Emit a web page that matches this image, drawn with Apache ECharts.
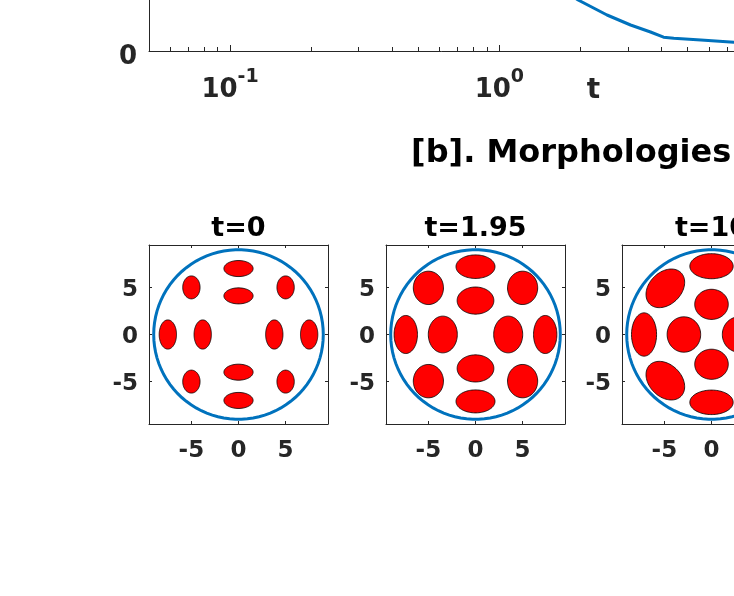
<!DOCTYPE html>
<html>
<head>
<meta charset="utf-8">
<script src="https://cdn.jsdelivr.net/npm/echarts@6/dist/echarts.min.js"></script>
<style>
  html, body { margin: 0; padding: 0; background: #fff; }
  #main { width: 734px; height: 596px; }
</style>
</head>
<body>
<div id="main"></div>
<script>
  // top strip: curve over t (log axis), only its lower part is in view
  const curveT = [1.5, 1.75, 1.96, 2.51, 3.07, 3.64, 4.07, 4.44, 5.6, 7.43, 10]
  const curveV = [0.2, 0.15, 0.1275, 0.09, 0.065, 0.0475, 0.0345, 0.0318, 0.0275, 0.0218, 0.019]
  const logLabelTicks = [0.1, 1, 10, 100]
  const logMinorTicks = [0.06, 0.07, 0.08, 0.09,
    0.2, 0.3, 0.4, 0.5, 0.6, 0.7, 0.8, 0.9,
    2, 3, 4, 5, 6, 7, 8, 9,
    20, 30, 40, 50, 60, 70, 80, 90]

  // [b] morphologies: each drop is [cx, cy, rx, ry, angle(deg)]
  const subTicks = [-5, 0, 5]
  const panelTitles = ['t=0', 't=1.95', 't=10']
  const domainCircle = [[0, 0, 9, 9, 0]]
  const morphT0 = [
    [0, 7.0, 1.55, 0.85, 0], [0, 4.1, 1.55, 0.85, 0],
    [0, -4.0, 1.55, 0.85, 0], [0, -7.0, 1.55, 0.85, 0],
    [-7.5, 0, 0.92, 1.55, 0], [-3.8, 0, 0.92, 1.55, 0],
    [3.8, 0, 0.92, 1.55, 0], [7.5, 0, 0.92, 1.55, 0],
    [-5.0, 5.0, 0.92, 1.22, 0], [5.0, 5.0, 0.92, 1.22, 0],
    [-5.0, -5.0, 0.92, 1.22, 0], [5.0, -5.0, 0.92, 1.22, 0]
  ]
  const morphT195 = [
    [0, 7.2, 2.07, 1.25, 0], [0, 3.6, 1.95, 1.44, 0],
    [0, -3.6, 1.95, 1.44, 0], [0, -7.1, 2.07, 1.22, 0],
    [-7.4, 0, 1.24, 2.02, 0], [-3.47, 0, 1.54, 1.95, 0],
    [3.47, 0, 1.54, 1.95, 0], [7.4, 0, 1.24, 2.02, 0],
    [-5.0, 4.95, 1.6, 1.77, 0], [5.0, 4.95, 1.6, 1.77, 0],
    [-5.0, -4.95, 1.6, 1.77, 0], [5.0, -4.95, 1.6, 1.77, 0]
  ]
  const morphT10 = [
    [0, 7.25, 2.3, 1.33, 0], [0, 3.2, 1.78, 1.6, 0],
    [0, -3.16, 1.78, 1.6, 0], [0, -7.2, 2.3, 1.3, 0],
    [-7.16, 0, 1.33, 2.3, 0], [-2.93, 0, 1.78, 1.88, 0],
    [2.93, 0, 1.78, 1.88, 0], [7.16, 0, 1.33, 2.3, 0],
    [-4.9, 4.9, 2.35, 1.7, 45], [4.9, 4.9, 2.35, 1.7, -45],
    [-4.9, -4.9, 2.35, 1.7, -45], [4.9, -4.9, 2.35, 1.7, 45]
  ]
  const panels = [morphT0, morphT195, morphT10]

  const axisColor = '#262626'
  const blue = '#0072BD'
  const font = 'DejaVu Sans'
  const panelLeft = [149, 386, 622]
  const panelSize = 179

  // ellipse outline built from its data through the axis scales
  function ellipseRenderer (style) {
    return function (params, api) {
      const cx = api.value(0)
      const cy = api.value(1)
      const rx = api.value(2)
      const ry = api.value(3)
      const ang = api.value(4) * Math.PI / 180
      const pts = []
      for (let k = 0; k < 90; k++) {
        const a = k / 90 * Math.PI * 2
        const ex = rx * Math.cos(a)
        const ey = ry * Math.sin(a)
        pts.push(api.coord([
          cx + ex * Math.cos(ang) - ey * Math.sin(ang),
          cy + ex * Math.sin(ang) + ey * Math.cos(ang)
        ]))
      }
      return { type: 'polygon', shape: { points: pts }, style: style }
    }
  }

  const myChart = echarts.init(document.getElementById('main'), null, { renderer: 'canvas' })

  const option = {
    animation: false,
    backgroundColor: '#fff',
    grid: [
      // top plot, mostly above the view
      { left: 149, top: -349, width: 889, height: 400, outerBoundsMode: 'none', containLabel: false }
    ],
    xAxis: [
      {
        type: 'log', gridIndex: 0, position: 'bottom',
        min: 0.05, max: 100,
        name: 't', nameLocation: 'middle', nameGap: 26, nameMoveOverlap: false,
        nameTextStyle: { fontFamily: font, fontWeight: 'bold', fontSize: 28, color: axisColor },
        axisLine: { lineStyle: { color: axisColor, width: 1 } },
        axisTick: { inside: true, length: 6, customValues: logLabelTicks, lineStyle: { color: axisColor } },
        splitLine: { show: false },
        axisLabel: {
          customValues: logLabelTicks,
          margin: 17,
          formatter: function (v) {
            return '{b|10}{s|' + Math.round(Math.log10(v)) + '}'
          },
          rich: {
            b: { fontFamily: font, fontWeight: 'bold', fontSize: 26, lineHeight: 35, color: axisColor, verticalAlign: 'bottom' },
            s: { fontFamily: font, fontWeight: 'bold', fontSize: 19, lineHeight: 19, color: axisColor, verticalAlign: 'top' }
          }
        }
      },
      {
        type: 'log', gridIndex: 0, position: 'bottom',
        min: 0.05, max: 100,
        axisLine: { show: false },
        axisTick: { inside: true, length: 4, customValues: logMinorTicks, lineStyle: { color: axisColor } },
        axisLabel: { show: false },
        splitLine: { show: false }
      }
    ],
    yAxis: [
      {
        type: 'value', gridIndex: 0, min: 0, max: 1, interval: 0.5,
        axisLine: { show: true, lineStyle: { color: axisColor, width: 1 } },
        axisTick: { show: true, inside: true, length: 6, lineStyle: { color: axisColor } },
        splitLine: { show: false },
        axisLabel: {
          margin: 12, verticalAlign: 'top', lineHeight: 12,
          fontFamily: font, fontWeight: 'bold', fontSize: 26, color: axisColor,
          formatter: function (v) { return v === 0 ? '0' : '' }
        }
      }
    ],
    series: [
      {
        type: 'line', xAxisIndex: 0, yAxisIndex: 0,
        data: curveT.map(function (t, i) { return [t, curveV[i]] }),
        showSymbol: false, smooth: false,
        lineStyle: { color: blue, width: 3 },
        clip: true
      }
    ],
    graphic: [
      {
        type: 'text', left: 411, top: 138,
        style: { text: '[b]. Morphologies', fontFamily: font, fontWeight: 'bold', fontSize: 32, fill: '#000' }
      }
    ]
  }

  panels.forEach(function (drops, k) {
    const gi = k + 1
    option.grid.push({ left: panelLeft[k], top: 245, width: panelSize, height: panelSize, outerBoundsMode: 'none', containLabel: false })
    const xBase = {
      type: 'value', gridIndex: gi, min: -9.5, max: 9.5,
      axisLine: { show: true, onZero: false, lineStyle: { color: axisColor, width: 1 } },
      axisTick: { show: true, inside: true, length: 3, customValues: subTicks, lineStyle: { color: axisColor } },
      splitLine: { show: false }
    }
    const labelStyle = {
      customValues: subTicks,
      fontFamily: font, fontWeight: 'bold', fontSize: 23, color: axisColor
    }
    option.xAxis.push(Object.assign({}, xBase, { position: 'bottom', axisLabel: Object.assign({ margin: 16 }, labelStyle) }))
    option.xAxis.push(Object.assign({}, xBase, { position: 'top', axisLabel: { show: false } }))
    option.yAxis.push(Object.assign({}, xBase, { position: 'left', axisLabel: Object.assign({ margin: 11, verticalAlign: 'top', lineHeight: 5 }, labelStyle) }))
    option.yAxis.push(Object.assign({}, xBase, { position: 'right', axisLabel: { show: false } }))
    const xi = option.xAxis.length - 2
    const yi = option.yAxis.length - 2
    option.series.push({
      type: 'custom', xAxisIndex: xi, yAxisIndex: yi,
      renderItem: ellipseRenderer({ fill: '#ff0000', stroke: '#000', lineWidth: 0.8 }),
      encode: { x: 0, y: 1 },
      data: drops
    })
    option.series.push({
      type: 'custom', xAxisIndex: xi, yAxisIndex: yi,
      renderItem: ellipseRenderer({ fill: 'none', stroke: blue, lineWidth: 3 }),
      encode: { x: 0, y: 1 },
      data: domainCircle
    })
    option.graphic.push({
      type: 'text', x: panelLeft[k] + panelSize / 2, y: 215,
      style: { text: panelTitles[k], fontFamily: font, fontWeight: 'bold', fontSize: 27, fill: '#000', align: 'center', verticalAlign: 'top' }
    })
  })

  myChart.setOption(option)
</script>
</body>
</html>
